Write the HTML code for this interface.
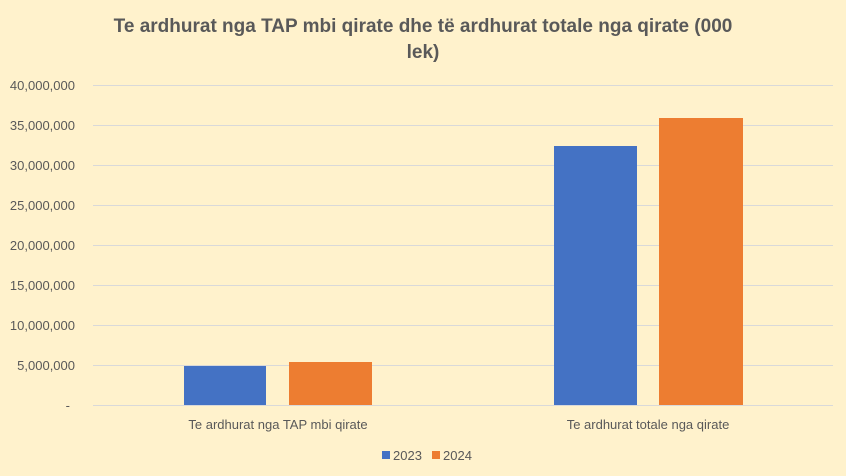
<!DOCTYPE html>
<html><head><style>
html,body{margin:0;padding:0;background:#FFF2CC;}
svg{display:block;}
text{font-family:"Liberation Sans",Arial,sans-serif;}
</style></head><body>
<svg width="846" height="476" viewBox="0 0 846 476" xmlns="http://www.w3.org/2000/svg">
<rect width="846" height="476" fill="#FFF2CC"/>
<text x="423" y="32" text-anchor="middle" font-size="19" font-weight="bold" fill="#595959">Te ardhurat nga TAP mbi qirate dhe të ardhurat totale nga qirate (000</text>
<text x="423" y="58" text-anchor="middle" font-size="19" font-weight="bold" fill="#595959">lek)</text>
<g stroke="#D9D9D9" stroke-width="1">
<line x1="93" x2="833" y1="85.5" y2="85.5"/>
<line x1="93" x2="833" y1="125.5" y2="125.5"/>
<line x1="93" x2="833" y1="165.5" y2="165.5"/>
<line x1="93" x2="833" y1="205.5" y2="205.5"/>
<line x1="93" x2="833" y1="245.5" y2="245.5"/>
<line x1="93" x2="833" y1="285.5" y2="285.5"/>
<line x1="93" x2="833" y1="325.5" y2="325.5"/>
<line x1="93" x2="833" y1="365.5" y2="365.5"/>
<line x1="93" x2="833" y1="405.5" y2="405.5"/>
</g>
<g font-size="13" fill="#595959" text-anchor="end">
<text x="75" y="90">40,000,000</text>
<text x="75" y="130">35,000,000</text>
<text x="75" y="170">30,000,000</text>
<text x="75" y="210">25,000,000</text>
<text x="75" y="250">20,000,000</text>
<text x="75" y="290">15,000,000</text>
<text x="75" y="330">10,000,000</text>
<text x="75" y="370">5,000,000</text>
<text x="70" y="410">-</text>
</g>
<rect x="184" y="366" width="82" height="39" fill="#4472C4"/>
<rect x="289" y="362" width="83" height="43" fill="#ED7D31"/>
<rect x="554" y="146" width="83" height="259" fill="#4472C4"/>
<rect x="659" y="118" width="84" height="287" fill="#ED7D31"/>
<g font-size="13" fill="#595959" text-anchor="middle">
<text x="278" y="429">Te ardhurat nga TAP mbi qirate</text>
<text x="648" y="429">Te ardhurat totale nga qirate</text>
</g>
<rect x="382" y="451" width="8" height="8" fill="#4472C4"/>
<text x="393" y="460" font-size="13" fill="#595959">2023</text>
<rect x="432" y="451" width="8" height="8" fill="#ED7D31"/>
<text x="443" y="460" font-size="13" fill="#595959">2024</text>
</svg>
</body></html>
